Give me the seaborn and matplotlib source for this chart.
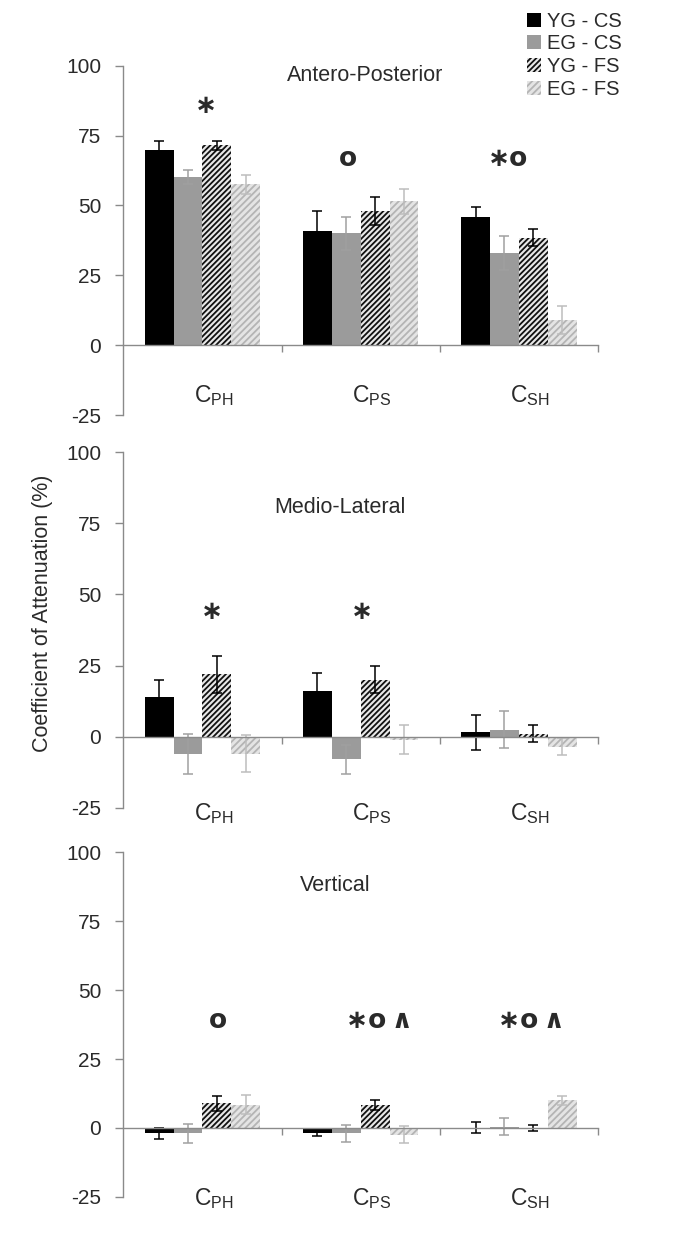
import numpy as np
import pandas as pd
import matplotlib
matplotlib.use("Agg")
import matplotlib.pyplot as plt
import seaborn as sns

# ---------------- data ----------------
components = ["CPH", "CPS", "CSH"]
component_labels = [r"C$_\mathregular{PH}$", r"C$_\mathregular{PS}$", r"C$_\mathregular{SH}$"]
groups = ["YG - CS", "EG - CS", "YG - FS", "EG - FS"]
panel_titles = ["Antero-Posterior", "Medio-Lateral", "Vertical"]

# Antero-Posterior
ap_yg_cs = [70.0, 41.0, 46.0]
ap_eg_cs = [60.0, 40.0, 33.0]
ap_yg_fs = [71.5, 48.0, 38.5]
ap_eg_fs = [57.5, 51.5, 9.0]
ap_err_yg_cs = [3.0, 7.0, 3.5]
ap_err_eg_cs = [2.5, 6.0, 6.0]
ap_err_yg_fs = [1.5, 5.0, 3.0]
ap_err_eg_fs = [3.5, 4.5, 5.0]

# Medio-Lateral
ml_yg_cs = [14.0, 16.0, 1.5]
ml_eg_cs = [-6.0, -8.0, 2.5]
ml_yg_fs = [22.0, 20.0, 1.0]
ml_eg_fs = [-6.0, -1.0, -3.5]
ml_err_yg_cs = [6.0, 6.5, 6.0]
ml_err_eg_cs = [7.0, 5.0, 6.5]
ml_err_yg_fs = [6.5, 4.8, 3.0]
ml_err_eg_fs = [6.5, 5.0, 3.0]

# Vertical
v_yg_cs = [-2.0, -2.0, 0.0]
v_eg_cs = [-2.0, -2.0, 0.5]
v_yg_fs = [9.0, 8.3, 0.0]
v_eg_fs = [8.5, -2.4, 10.0]
v_err_yg_cs = [2.0, 1.0, 2.0]
v_err_eg_cs = [3.3, 3.2, 3.0]
v_err_yg_fs = [2.7, 1.7, 1.0]
v_err_eg_fs = [3.3, 3.0, 1.7]

# significance annotations: (text, x position in category units, y value)
STAR = "\u2217"
WEDGE = "\u2227"
ap_annot = [(STAR, 0.02, 85.5), ("o", 0.92, 66.5), (STAR + "o", 1.93, 66.5)]
ml_annot = [(STAR, 0.06, 44.0), (STAR, 1.01, 44.0)]
v_annot = [("o", 0.10, 39.0), (STAR + "o\u2009" + WEDGE, 1.12, 39.0),
           (STAR + "o\u2009" + WEDGE, 2.08, 39.0)]

panels = [
    ([ap_yg_cs, ap_eg_cs, ap_yg_fs, ap_eg_fs],
     [ap_err_yg_cs, ap_err_eg_cs, ap_err_yg_fs, ap_err_eg_fs], ap_annot),
    ([ml_yg_cs, ml_eg_cs, ml_yg_fs, ml_eg_fs],
     [ml_err_yg_cs, ml_err_eg_cs, ml_err_yg_fs, ml_err_eg_fs], ml_annot),
    ([v_yg_cs, v_eg_cs, v_yg_fs, v_eg_fs],
     [v_err_yg_cs, v_err_eg_cs, v_err_yg_fs, v_err_eg_fs], v_annot),
]

# ---------------- style ----------------
sns.set_theme(style="white")
plt.rcParams["font.family"] = ["Liberation Sans", "DejaVu Sans"]
plt.rcParams["hatch.linewidth"] = 1.3

face_colors = ["#000000", "#9b9b9b", "#e8e8e8", "#e4e4e4"]
hatch_colors = ["#000000", "#9b9b9b", "#111111", "#b4b4b4"]
hatches = [None, None, "//////", "/////"]
err_colors = ["#000000", "#a0a0a0", "#000000", "#bdbdbd"]
axis_gray = "#8a8a8a"
text_col = "#2a2a2a"

title_pos = [(1.03, 96.5), (0.87, 80.5), (0.84, 88.0)]
label_y = [-18.0, -27.0, -25.5]

fig = plt.figure(figsize=(6.85, 12.39), dpi=100)
boxes = [(0.180, 0.665, 0.693, 0.282),
         (0.180, 0.348, 0.693, 0.287),
         (0.180, 0.034, 0.693, 0.278)]

axes = []
bar_containers = []
for pi, (means, errs, annots) in enumerate(panels):
    ax = fig.add_axes(boxes[pi])
    axes.append(ax)
    rows = []
    for g, vals in zip(groups, means):
        for c, v in zip(components, vals):
            rows.append({"component": c, "group": g, "value": v})
    df = pd.DataFrame(rows)
    sns.barplot(data=df, x="component", y="value", hue="group",
                order=components, hue_order=groups, palette=face_colors,
                width=0.73, gap=0, errorbar=None, ax=ax, legend=False,
                saturation=1)
    conts = list(ax.containers)
    bar_containers.append(conts)
    for j, cont in enumerate(conts):
        xs = []
        for bar in cont.patches:
            bar.set_facecolor(face_colors[j])
            bar.set_edgecolor(hatch_colors[j])
            bar.set_linewidth(0)
            if hatches[j]:
                bar.set_hatch(hatches[j])
            xs.append(bar.get_x() + bar.get_width() / 2)
        ax.errorbar(xs, means[j], yerr=errs[j], fmt="none", ecolor=err_colors[j],
                    elinewidth=1.1, capsize=3.5, capthick=1.1, zorder=4)

    ax.set_xlim(-0.5, 2.5)
    ax.set_ylim(-25, 100)
    ax.set_yticks([-25, 0, 25, 50, 75, 100])
    ax.set_yticklabels(["-25", "0", "25", "50", "75", "100"])
    ax.set_xticks([0.5, 1.5, 2.5])
    ax.set_xticklabels([])
    ax.set_xlabel("")
    ax.set_ylabel("")
    for s in ["top", "right"]:
        ax.spines[s].set_visible(False)
    ax.spines["left"].set_color(axis_gray)
    ax.spines["left"].set_linewidth(1.0)
    ax.spines["bottom"].set_position(("data", 0))
    ax.spines["bottom"].set_color(axis_gray)
    ax.spines["bottom"].set_linewidth(1.0)
    ax.spines["bottom"].set_zorder(5)
    ax.tick_params(axis="y", left=True, direction="out", length=6, width=1,
                   color=axis_gray, labelsize=15, labelcolor=text_col, pad=10)
    ax.tick_params(axis="x", bottom=True, direction="out", length=5, width=1,
                   color=axis_gray)
    ax.set_facecolor("white")

    for k, lab in enumerate(component_labels):
        ax.text(k + 0.07, label_y[pi], lab, ha="center", va="center",
                fontsize=16.5, color=text_col)
    tx, ty = title_pos[pi]
    ax.text(tx, ty, panel_titles[pi], ha="center", va="center",
            fontsize=15.5, color=text_col)
    for txt, x, y in annots:
        ax.text(x, y, txt, ha="center", va="center", fontsize=19,
                fontweight="bold", color=text_col,
                family=["DejaVu Sans"])

handles = [bar_containers[0][j].patches[0] for j in range(4)]
fig.legend(handles, groups, loc="upper left", bbox_to_anchor=(0.757, 0.997),
           frameon=False, fontsize=14.5, handlelength=0.7, handleheight=0.7,
           handletextpad=0.3, labelspacing=0.18, borderaxespad=0,
           labelcolor=text_col)

fig.text(0.062, 0.505, "Coefficient of Attenuation (%)", rotation=90,
         ha="center", va="center", fontsize=15.5, color=text_col)

fig.savefig("out.png", dpi=100, facecolor="white")
